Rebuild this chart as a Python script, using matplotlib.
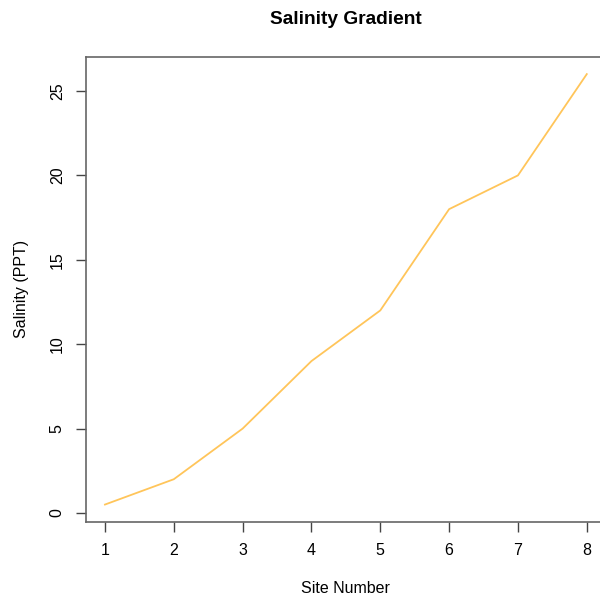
import matplotlib.pyplot as plt

plt.rcParams['font.family'] = ['Liberation Sans', 'DejaVu Sans']

# site numbers and salinity readings
sites = [1, 2, 3, 4, 5, 6, 7, 8]
salinity = [0.5, 2, 5, 9, 12, 18, 20, 26]

fig = plt.figure(figsize=(6, 5.97), dpi=100)
ax = fig.add_axes([0.1428, 0.126, 0.8673, 0.7787])

ax.plot(sites, salinity, color='#FFC55A', linewidth=1.3)

# R style 4% padding
xr = max(sites) - min(sites)
yr = max(salinity) - min(salinity)
ax.set_xlim(min(sites) - 0.04 * xr, max(sites) + 0.04 * xr)
ax.set_ylim(min(salinity) - 0.04 * yr, max(salinity) + 0.04 * yr)

ax.set_xticks(sites)
ax.set_yticks([0, 5, 10, 15, 20, 25])
for s in ax.spines.values():
    s.set_color('#666666')
    s.set_linewidth(1.2)
ax.tick_params(length=7, width=1, color='#444444', labelsize=11.5, pad=8)
for lab in ax.get_yticklabels():
    lab.set_rotation(90)
    lab.set_va('center')

ax.set_title('Salinity Gradient', fontsize=13.8, fontweight='bold', pad=24)
ax.set_xlabel('Site Number', fontsize=11.5, labelpad=17)
ax.set_ylabel('Salinity (PPT)', fontsize=11.5, labelpad=15)

fig.savefig('out.png')
